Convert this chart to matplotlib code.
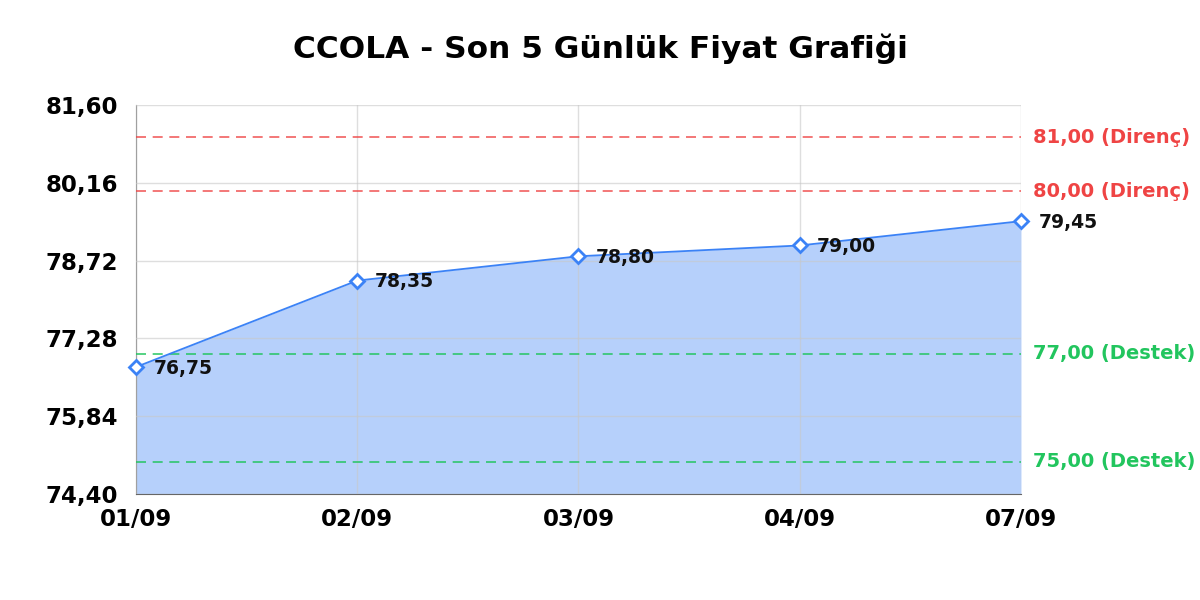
import matplotlib.pyplot as plt

plt.rcParams['font.family'] = ['DejaVu Sans']

# veriler
dates = ['01/09', '02/09', '03/09', '04/09', '07/09']
prices = [76.75, 78.35, 78.80, 79.00, 79.45]
resistance = [81.00, 80.00]
support = [77.00, 75.00]
y_ticks = [74.40, 75.84, 77.28, 78.72, 80.16, 81.60]


def tr(v):
    return f'{v:.2f}'.replace('.', ',')


fig = plt.figure(figsize=(12, 6), dpi=100)
ax = fig.add_axes([0.1133, 0.1767, 0.7375, 0.6483])

x = list(range(len(dates)))
ax.fill_between(x, prices, y_ticks[0], color='#3b82f6', alpha=0.37, linewidth=0, zorder=1)
ax.plot(x, prices, color='#3b82f6', linewidth=1.3, marker='D', markersize=7,
        markerfacecolor='white', markeredgecolor='#3b82f6', markeredgewidth=2,
        zorder=4, clip_on=False)

for xi, p in zip(x, prices):
    ax.annotate(tr(p), (xi, p), xytext=(12.5, -1), textcoords='offset points',
                va='center', ha='left', fontsize=13.5, fontweight='bold', color='#111111', zorder=5)

# destek / direnç çizgileri
for r in resistance:
    ax.axhline(r, color='#ef4444', linestyle=(0, (6, 4)), linewidth=1.2, alpha=0.85, zorder=3)
    ax.annotate(f'{tr(r)} (Direnç)', (1, r), xycoords=('axes fraction', 'data'),
                xytext=(8.5, 0), textcoords='offset points', va='center', ha='left',
                fontsize=14, fontweight='bold', color='#ef4444', annotation_clip=False)
for s in support:
    ax.axhline(s, color='#22c55e', linestyle=(0, (6, 4)), linewidth=1.2, alpha=0.9, zorder=3)
    ax.annotate(f'{tr(s)} (Destek)', (1, s), xycoords=('axes fraction', 'data'),
                xytext=(8.5, 0), textcoords='offset points', va='center', ha='left',
                fontsize=14, fontweight='bold', color='#22c55e', annotation_clip=False)

ax.set_xlim(0, len(dates) - 1)
ax.set_ylim(y_ticks[0], y_ticks[-1])
ax.set_xticks(x)
ax.set_xticklabels(dates, fontsize=16.5, fontweight='bold')
ax.set_yticks(y_ticks)
ax.set_yticklabels([tr(v) for v in y_ticks], fontsize=16.5, fontweight='bold')
ax.tick_params(axis='y', length=0, pad=13)
ax.tick_params(axis='x', length=0, pad=10)

ax.grid(True, color='#c8c8c8', alpha=0.6, linewidth=1, zorder=2)
ax.set_axisbelow(False)
for side in ['top', 'right']:
    ax.spines[side].set_visible(False)
ax.spines['left'].set_color('#666666')
ax.spines['bottom'].set_color('#666666')

fig.suptitle('CCOLA - Son 5 Günlük Fiyat Grafiği', fontsize=22.5, fontweight='bold',
             y=0.918, va='center')

plt.savefig('out.png', dpi=100)
